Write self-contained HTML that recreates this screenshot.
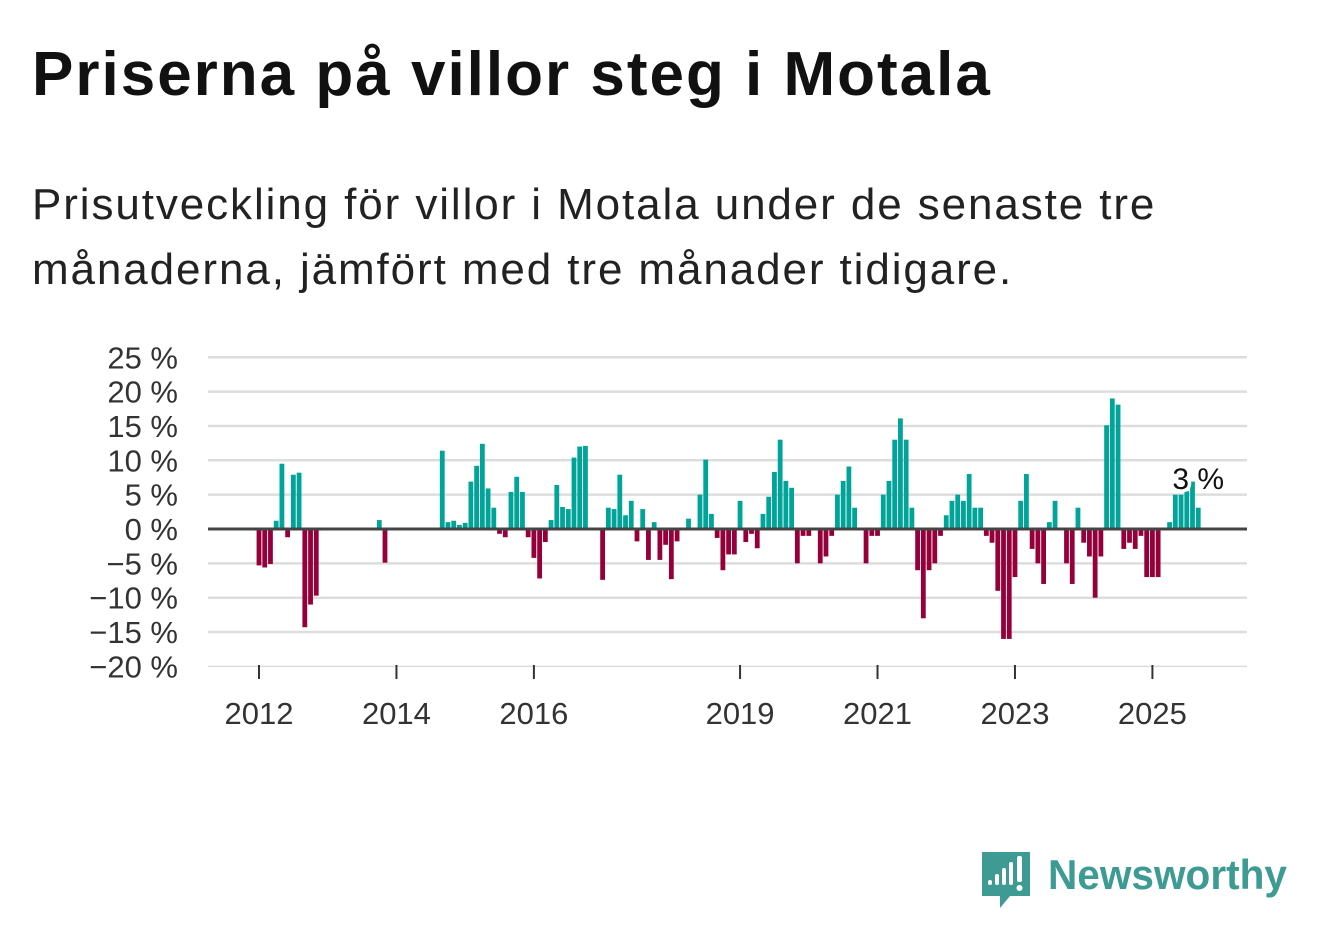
<!DOCTYPE html>
<html><head><meta charset="utf-8">
<style>
body{margin:0;background:#fff;width:1322px;height:939px;overflow:hidden;font-family:"Liberation Sans",sans-serif;}
#title{position:absolute;left:32px;top:44px;font-size:62px;line-height:1;font-weight:bold;color:#111;margin:0;letter-spacing:2px;white-space:nowrap}
#sub{position:absolute;left:32px;top:172px;font-size:44px;line-height:65px;color:#222;margin:0;width:1280px;letter-spacing:1.9px;white-space:nowrap}
svg{position:absolute;left:0;top:0}
</style></head><body>
<h1 id="title">Priserna på villor steg i Motala</h1>
<p id="sub">Prisutveckling för villor i Motala under de senaste tre<br>månaderna, jämfört med tre månader tidigare.</p>
<svg id="chart" width="1322" height="939"></svg>
<script>
const values=[-5.3,-5.6,-5.1,1.2,9.5,-1.2,7.9,8.2,-14.3,-11.0,-9.7,0,0,0,0,0,0,0,0,0,0,1.3,-4.9,0,0,0,0,0,0,0,0,0,
11.4,1.0,1.2,0.6,0.9,6.9,9.2,12.4,5.9,3.1,-0.7,-1.2,5.4,7.6,5.4,-1.2,-4.2,-7.2,-1.9,1.3,6.4,3.2,2.9,10.4,12.0,12.1,0,0,
-7.4,3.1,2.9,7.9,2.0,4.1,-1.8,2.9,-4.5,1.0,-4.5,-2.3,-7.3,-1.8,0,1.5,0,5.0,10.1,2.2,-1.3,-6.0,-3.7,-3.7,4.1,-1.9,-0.7,-2.8,
2.2,4.7,8.3,13.0,7.0,6.0,-5.0,-1.0,-1.0,0,-5.0,-4.0,-1.0,5.0,7.0,9.1,3.1,0,-5.0,-1.0,-1.0,5.0,7.0,13.0,16.1,13.0,3.1,-6.0,
-13.0,-6.0,-5.0,-1.0,2.0,4.1,5.0,4.1,8.0,3.1,3.1,-1.0,-2.0,-9.0,-16.0,-16.0,-7.0,4.1,8.0,-2.9,-5.0,-8.0,1.0,4.1,0,-5.0,-8.0,3.1,
-2.0,-4.0,-10.0,-4.0,15.1,19.0,18.1,-2.9,-2.0,-2.9,-1.0,-7.0,-7.0,-7.0,0,1.0,5.0,5.0,5.5,6.9,3.1];
const startYear=2012;
const yTicks=[25,20,15,10,5,0,-5,-10,-15,-20];
const xTickYears=[2012,2014,2016,2019,2021,2023,2025];
const lastLabel="3 %";
const NS="http://www.w3.org/2000/svg";
const svg=document.getElementById('chart');
const x0=208,x1=1247;
function y(v){return 529-v*6.87;}
function xm(i){return 259+i*5.727;}
function mk(t,a,p){const e=document.createElementNS(NS,t);for(const k in a)e.setAttribute(k,a[k]);(p||svg).appendChild(e);return e;}
yTicks.forEach(v=>{
  if(v!==0){const g=mk('line',{x1:x0,x2:x1,y1:y(v),y2:y(v),stroke:'#ddd','stroke-width':v===-20?1.5:2.5});
  
  }
  const t=mk('text',{x:178,y:y(v)+11,'text-anchor':'end','font-size':31,fill:'#333'});
  t.textContent=(v<0?'\u2212'+(-v):v)+' %';
  
  
});
values.forEach((v,i)=>{
  if(v===0)return;
  const cx=xm(i);
  const r=mk('rect',{x:cx-2.4,width:4.8,y:Math.min(y(v),y(0)),height:Math.abs(y(v)-y(0)),fill:v>0?'#00a499':'#96003a'});
  
  
});
const zl=mk('line',{x1:x0,x2:x1,y1:y(0),y2:y(0),stroke:'#444','stroke-width':3});


xTickYears.forEach(yr=>{
  const cx=xm((yr-startYear)*12);
  const tk=mk('line',{x1:cx,x2:cx,y1:665,y2:679,stroke:'#333','stroke-width':2});
  
  
  const t=mk('text',{x:cx,y:724,'text-anchor':'middle','font-size':31,fill:'#333'});
  t.textContent=yr;
  
  
});
const li=values.length-1;
const lb=mk('text',{x:xm(li),y:489,'text-anchor':'middle','font-size':30,fill:'#111',stroke:'#fff','stroke-width':7,'paint-order':'stroke','stroke-linejoin':'round'});
lb.textContent=lastLabel;


const lg=mk('g',{});


mk('path',{d:'M982 852 h48 v44 h-20 l-10 12 v-12 h-18 z',fill:'#3d9b93'},lg);
[[988,880,5],[995,874,11],[1002,868,17],[1009,862,23]].forEach(b=>mk('rect',{x:b[0],y:b[1],width:4,height:b[2],fill:'#fff',rx:2},lg));
mk('rect',{x:1017,y:856,width:5,height:26,fill:'#fff',rx:2},lg);
mk('circle',{cx:1019.5,cy:888,r:3,fill:'#fff'},lg);
const lt=mk('text',{x:1048,y:889,'font-size':42,'font-weight':'bold',fill:'#3d9b93',textLength:239,lengthAdjust:'spacingAndGlyphs'},lg);
lt.textContent='Newsworthy';
</script>
</body></html>
